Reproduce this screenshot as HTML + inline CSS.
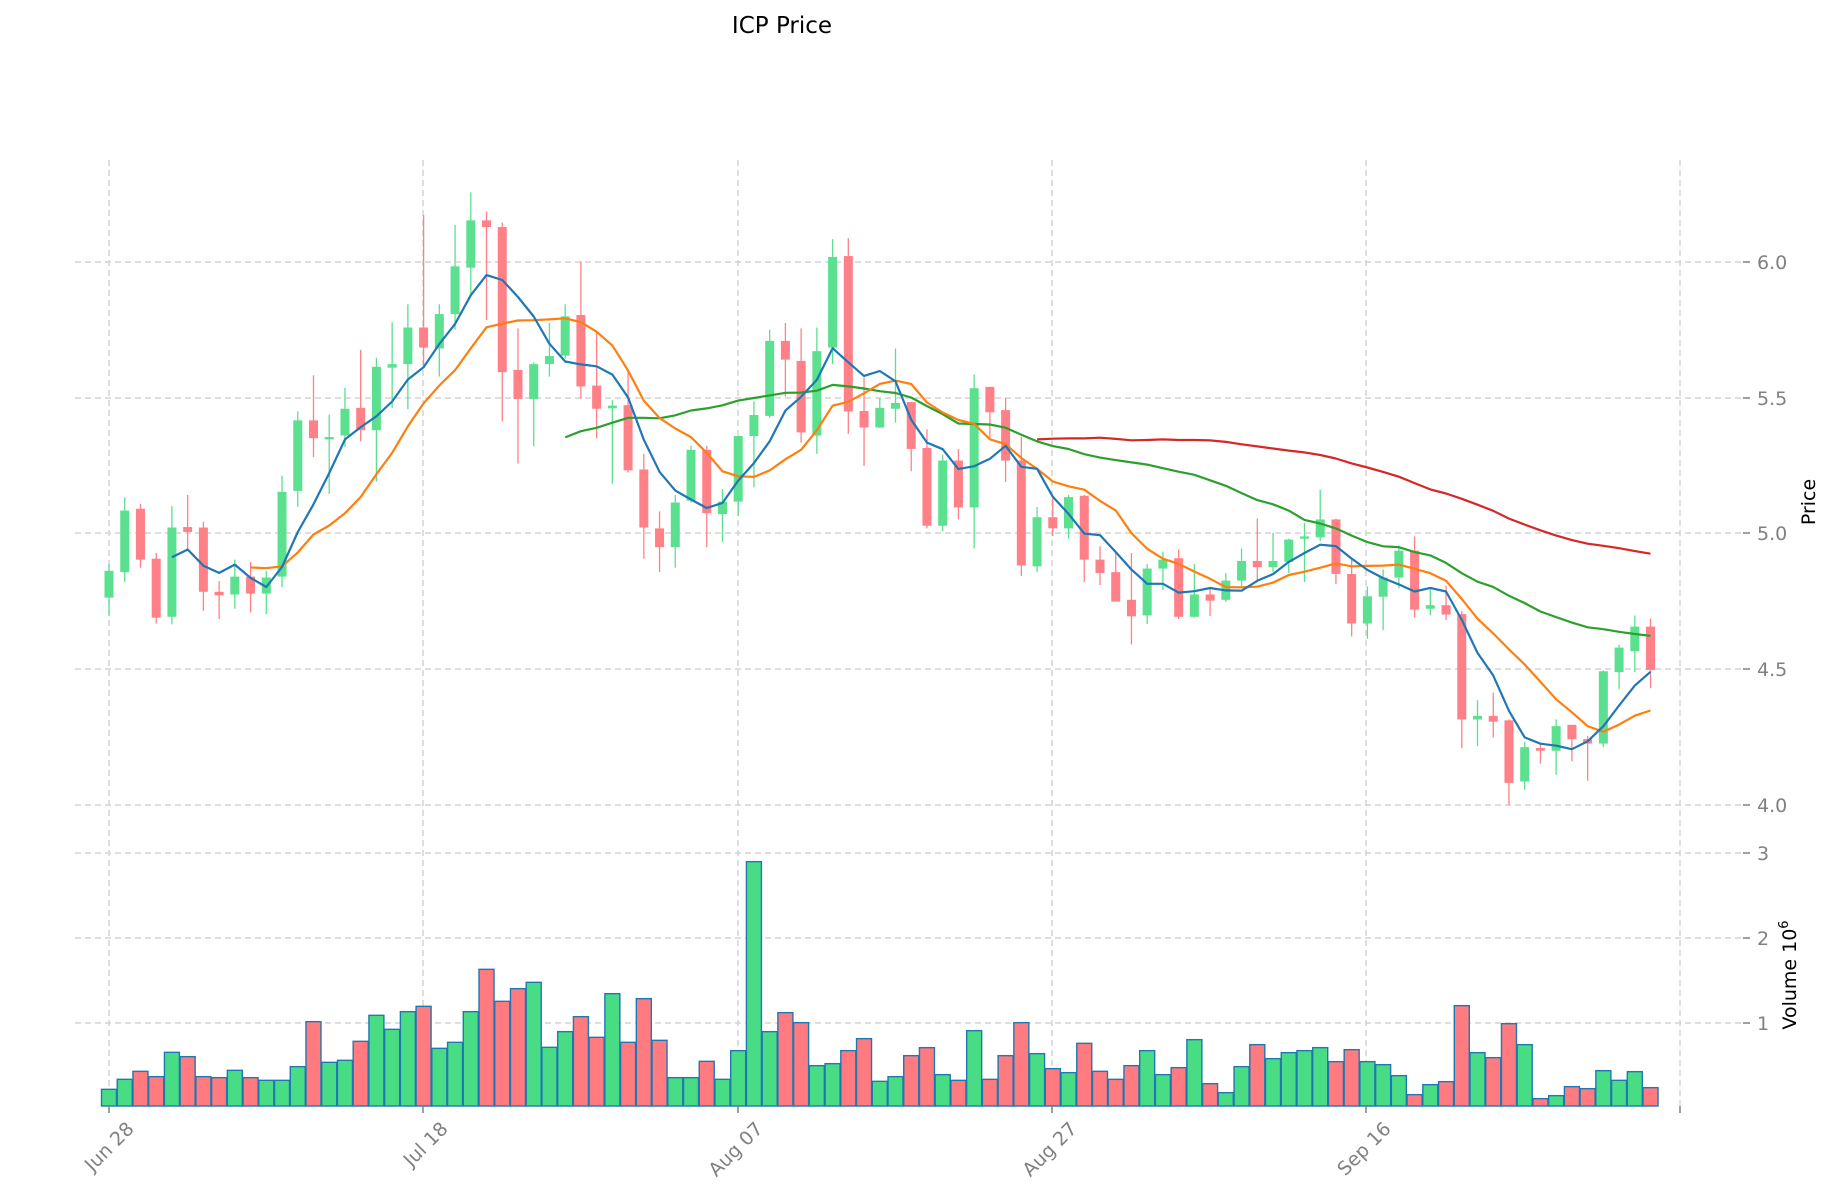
<!DOCTYPE html>
<html><head><meta charset="utf-8"><style>
html,body{margin:0;padding:0;background:#fff;}
svg{display:block;}
text{font-family:"DejaVu Sans","Liberation Sans",sans-serif;}
</style></head><body>
<svg id="c" width="1834" height="1202" viewBox="0 0 1834 1202" xmlns="http://www.w3.org/2000/svg">
<rect width="1834" height="1202" fill="#fff"/>
<text x="782" y="33" font-size="23" text-anchor="middle" fill="#000">ICP Price</text>
<g id="grid" stroke="#d3d3d3" stroke-width="1.5" stroke-dasharray="6,4" fill="none"></g>
<g id="vol"></g>
<g id="cand"></g>
<g id="ma" fill="none" stroke-width="2.2" stroke-linejoin="round"></g>
<g id="ax" fill="#808080" font-size="19"></g>
<text transform="translate(1815,502) rotate(-90)" font-size="19" text-anchor="middle" fill="#000">Price</text>
<text transform="translate(1796,975) rotate(-90)" font-size="19" text-anchor="middle" fill="#000">Volume  10<tspan dy="-8" font-size="13">6</tspan></text>
</svg>
<script>
var C=[
['G',965,1025,950,1065],['G',830,968,800,990],['R',826,940,815,958],['R',938,1070,925,1083],['G',868,1068,820,1085],
['R',867,878,795,915],['R',868,1012,855,1055],['R',1012,1020,988,1073],['G',978,1018,940,1050],['R',978,1016,945,1058],
['G',980,1016,965,1062],['G',788,978,752,1002],['G',628,786,608,822],['R',628,668,527,710],['G',667,669,615,793],
['G',602,662,555,688],['R',600,650,470,675],['G',508,650,488,765],['G',502,510,408,600],['G',420,502,368,603],
['R',420,465,168,505],['G',390,467,368,530],['G',283,390,190,425],['G',180,286,117,345],['R',180,195,160,403],
['R',195,520,185,630],['R',515,580,422,725],['G',502,580,498,686],['G',484,502,410,530],['G',395,483,368,490],
['R',392,552,272,580],['R',550,602,430,668],['G',595,601,583,770],['R',594,740,520,745],['R',738,868,703,938],
['R',870,912,832,968],['G',812,912,795,958],['G',694,808,685,812],['R',694,836,685,912],['G',810,838,782,900],
['G',663,810,663,842],['G',616,663,585,778],['G',450,618,425,622],['R',450,492,410,575],['R',495,655,422,678],
['G',473,662,420,703],['G',262,465,222,502],['R',260,608,220,658],['R',607,644,532,730],['G',600,644,578,645],
['G',589,602,467,633],['R',587,692,587,742],['R',690,864,648,870],['G',718,864,705,876],['R',718,823,692,850],
['G',556,823,525,915],['R',553,610,553,672],['R',605,718,578,766],['R',718,953,665,977],['G',845,955,822,968],
['R',845,870,800,887],['G',800,870,795,893],['R',797,940,795,990],['R',940,970,910,997],['R',968,1034,925,1034],
['R',1030,1067,925,1130],['G',960,1065,950,1084],['G',940,960,922,1008],['R',937,1068,917,1073],['G',1018,1068,950,1070],
['R',1018,1032,1005,1066],['G',987,1030,970,1035],['G',943,987,915,1000],['R',943,957,848,985],['G',943,957,880,968],
['G',895,945,893,970],['G',888,893,858,990],['G',850,890,783,898],['R',850,972,848,995],['R',972,1083,940,1112],
['G',1022,1083,1000,1117],['G',980,1023,962,1098],['G',920,980,908,1004],['R',920,1052,888,1070],['G',1042,1050,1005,1065],
['R',1042,1063,998,1075],['R',1062,1298,1055,1362],['G',1290,1298,1255,1358],['R',1290,1303,1238,1338],['R',1300,1440,1298,1490],
['G',1360,1437,1348,1456],['R',1362,1368,1350,1397],['G',1313,1368,1298,1422],['R',1310,1342,1310,1392],['R',1342,1352,1335,1435],
['G',1190,1352,1188,1360],['G',1137,1192,1130,1230],['G',1090,1145,1065,1192],['R',1090,1187,1072,1228]];
var V=[748,718,694,710,637,650,710,713,691,713,721,721,680,545,667,661,604,526,568,515,499,625,607,515,388,484,446,427,622,575,
530,592,461,607,476,601,713,713,664,718,632,65,575,518,548,677,671,632,596,724,710,647,623,704,721,572,718,647,548,641,
686,698,610,694,718,677,632,704,683,599,731,758,680,614,656,638,632,623,665,629,665,674,707,764,734,725,497,638,653,551,
614,776,767,740,746,692,721,695,743];
var NS="http://www.w3.org/2000/svg";
function el(p,t,a){var e=document.createElementNS(NS,t);for(var k in a)e.setAttribute(k,a[k]);p.appendChild(e);return e;}
function Y(z){return 140+z*700/1568;}
function X(i){return 109+i*15.73;}
var grid=document.getElementById('grid'),vol=document.getElementById('vol'),cand=document.getElementById('cand'),ma=document.getElementById('ma'),ax=document.getElementById('ax');
var vx=[109,423,738,1052,1366,1680];
vx.forEach(function(x){el(grid,'line',{x1:x,y1:160,x2:x,y2:1106});});
var py=[[262,'6.0'],[398,'5.5'],[533,'5.0'],[669,'4.5'],[805,'4.0']];
var vy=[[853,'3'],[938,'2'],[1023,'1']];
py.concat(vy).forEach(function(p){el(grid,'line',{x1:75,y1:p[0],x2:1745,y2:p[0]});
 el(ax,'line',{x1:1743,y1:p[0],x2:1750,y2:p[0],stroke:'#808080','stroke-width':1.5});
 var t=el(ax,'text',{x:1757,y:p[0]+7});t.textContent=p[1];});
vx.forEach(function(x){el(ax,'line',{x1:x,y1:1106,x2:x,y2:1113,stroke:'#808080','stroke-width':1.5});});
var labs=['Jun 28','Jul 18','Aug 07','Aug 27','Sep 16'];
labs.forEach(function(l,k){var x=vx[k]+26,y=1130;var t=el(ax,'text',{x:x,y:y,'text-anchor':'end','font-size':19,transform:'rotate(-45 '+x+' '+y+')'});t.textContent=l;});
V.forEach(function(v,i){var top=840+v/3;var g=C[i][0]=='G';
 el(vol,'rect',{x:X(i)-7.5,y:top,width:15,height:1106-top,fill:g?'#48dd84':'#ff7b7f',stroke:'#1f77b4','stroke-width':1.4});});
var close=[];
C.forEach(function(c,i){var g=c[0]=='G',col=g?'#5ae08f':'#ff8087';var x=X(i);
 el(cand,'line',{x1:x,y1:Y(c[3]),x2:x,y2:Y(c[4]),stroke:col,'stroke-width':1.3});
 var t=Y(c[1]),b=Y(c[2]);if(b-t<1.5){t-=0.75;b+=0.75;}
 el(cand,'rect',{x:x-4.5,y:t,width:9,height:b-t,fill:col});
 close.push(g?Y(c[1]):Y(c[2]));});
function sma(n,col){var pts=[];for(var i=n-1;i<close.length;i++){var s=0;for(var j=i-n+1;j<=i;j++)s+=close[j];pts.push(X(i).toFixed(1)+','+(s/n).toFixed(1));}
 el(ma,'polyline',{points:pts.join(' '),stroke:col});}
sma(60,'#d62728');sma(30,'#2ca02c');sma(10,'#ff7f0e');sma(5,'#1f77b4');
</script>
</body></html>
